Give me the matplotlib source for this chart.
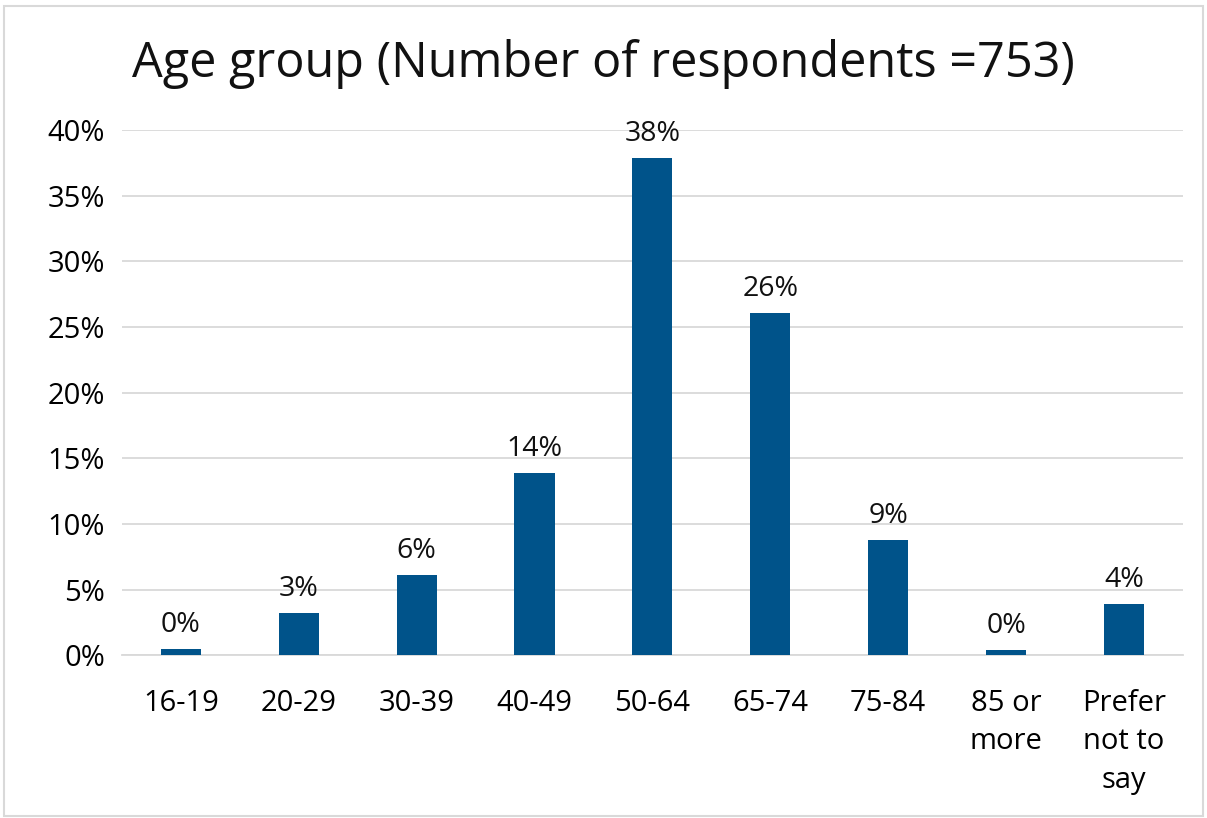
import matplotlib

matplotlib.use("Agg")
import matplotlib.pyplot as plt
from matplotlib.patches import Rectangle
from matplotlib.ticker import PercentFormatter

# values (share of respondents)
categories = ["16-19", "20-29", "30-39", "40-49", "50-64", "65-74", "75-84",
              "85 or\nmore", "Prefer\nnot to\nsay"]
shares = [0.005, 0.032, 0.061, 0.139, 0.379, 0.261, 0.088, 0.004, 0.039]
labels = ["0%", "3%", "6%", "14%", "38%", "26%", "9%", "0%", "4%"]

BAR = "#00538A"
GRID = "#D9D9D9"
plt.rcParams["font.family"] = ["Open Sans", "DejaVu Sans"]

fig = plt.figure(figsize=(12.07, 8.18), dpi=100)
ax = fig.add_axes([0.101, 0.199, 0.879, 0.642])

x = range(len(categories))
ax.bar(x, shares, width=0.34, color=BAR, zorder=3)
for xi, v, lab in zip(x, shares, labels):
    ax.annotate(lab, (xi, v), xytext=(0, 7), textcoords="offset points",
                ha="center", va="bottom", fontsize=20.5, color="#111111")

ax.set_xlim(-0.5, len(categories) - 0.5)
ax.set_ylim(0, 0.40)
ax.set_yticks([i * 0.05 for i in range(9)])
ax.yaxis.set_major_formatter(PercentFormatter(1.0, decimals=0))
ax.set_xticks(list(x))
ax.set_xticklabels(categories, fontsize=21, linespacing=1.45)
ax.tick_params(axis="y", labelsize=21, length=0, pad=12)
ax.tick_params(axis="x", length=0, pad=24)
ax.grid(axis="y", color=GRID, linewidth=1.3, zorder=0)
for s in ["top", "right", "left"]:
    ax.spines[s].set_visible(False)
ax.spines["bottom"].set_color(GRID)
ax.spines["bottom"].set_linewidth(1.3)

fig.text(0.5, 0.922, "Age group (Number of respondents =753)", ha="center",
         va="center", fontsize=35, color="#111111")

# light frame round the whole chart
fig.patches.append(Rectangle((0.003, 0.002), 0.994, 0.991, transform=fig.transFigure,
                             fill=False, edgecolor=GRID, linewidth=1.5))

fig.savefig("out.png", dpi=100)
